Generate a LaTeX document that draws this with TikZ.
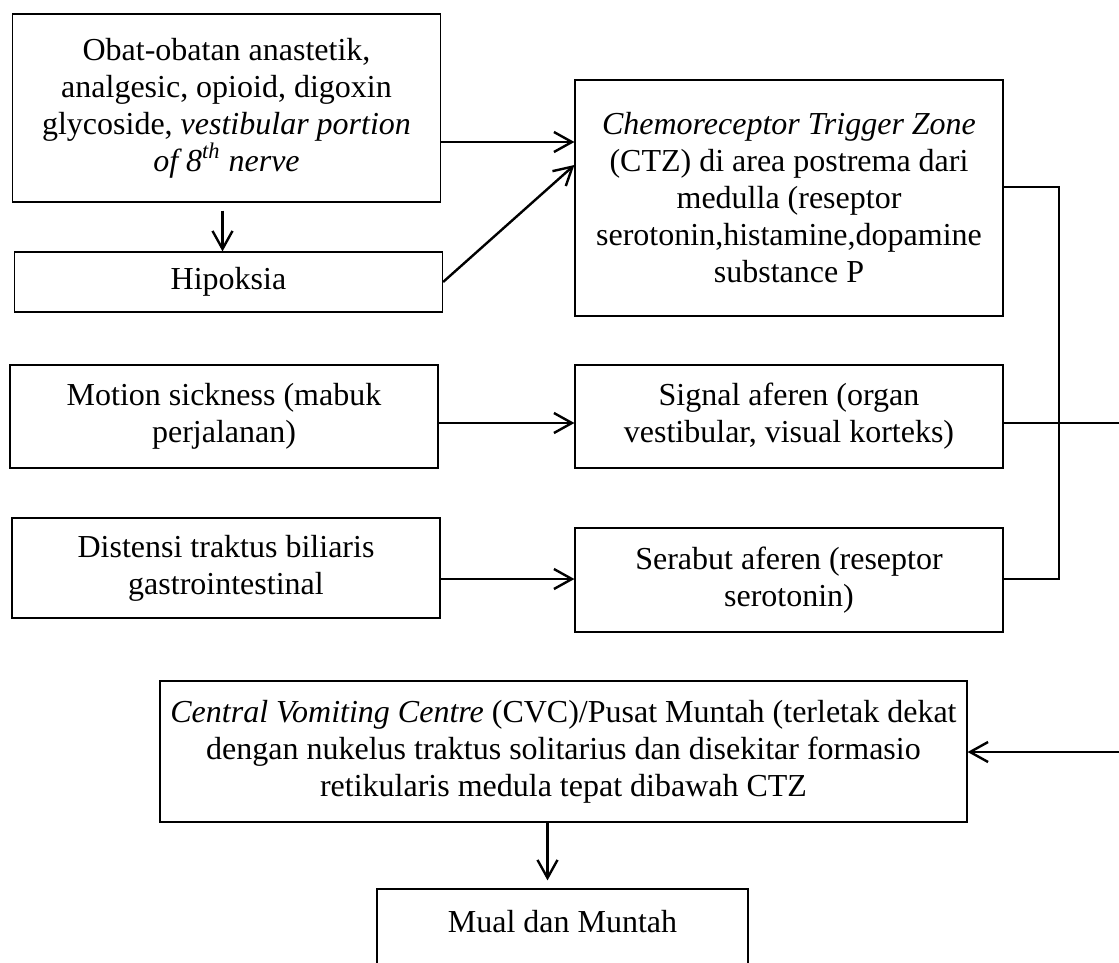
\documentclass[tikz,border=0pt]{standalone}
\usepackage{fontspec}
\setmainfont{Liberation Serif}
\usetikzlibrary{arrows.meta}
\begin{document}
\begin{tikzpicture}[x=0.5pt,y=-0.5pt,
    box/.style={draw, line width=0.6pt, align=center, inner sep=0pt,
      minimum width=214pt, font=\fontsize{16}{18.5}\selectfont},
    arr/.style={-{Straight Barb[length=9pt,width=10pt]}, line width=1.2pt},
    link/.style={line width=1.2pt}]
  \useasboundingbox (0,0) rectangle (1119,963);
  % left column
  \node[box, minimum height=94pt] (obat) at (226.5,108)
    {Obat-obatan anastetik,\\analgesic, opioid, digoxin\\glycoside, \textit{vestibular portion}\\\textit{of 8\textsuperscript{th} nerve}};
  \node[box, minimum height=30pt] (hip) at (228.5,282) {Hipoksia};
  \node[box, minimum height=51.5pt] (motion) at (224,416.5) {Motion sickness (mabuk\\perjalanan)};
  \node[box, minimum height=50pt] (dist) at (226,568) {Distensi traktus biliaris\\gastrointestinal};
  % right column
  \node[box, minimum height=118pt] (ctz) at (789,198)
    {\textit{Chemoreceptor Trigger Zone}\\(CTZ) di area postrema dari\\medulla (reseptor\\serotonin,histamine,dopamine\\substance P};
  \node[box, minimum height=51.5pt] (signal) at (789,416.5) {Signal aferen (organ\\vestibular, visual korteks)};
  \node[box, minimum height=52pt] (serabut) at (789,580) {Serabut aferen (reseptor\\serotonin)};
  % bottom
  \node[box, minimum width=403.5pt, minimum height=70.5pt] (cvc) at (563.5,751.5)
    {\textit{Central Vomiting Centre} (CVC)/Pusat Muntah (terletak dekat\\dengan nukelus traktus solitarius dan disekitar formasio\\retikularis medula tepat dibawah CTZ};
  \node[box, minimum width=185.5pt, minimum height=50.5pt] (mual) at (562.5,939.5) {Mual dan Muntah\\\mbox{}};
  % free ends
  \coordinate (bt) at (1059,187);
  \coordinate (bb) at (1059,579);
  \coordinate (edge1) at (1119,423);
  \coordinate (edge2) at (1119,752);
  % connectors
  \draw[arr] (obat.east |- 0,142) -- (ctz.west |- 0,142);
  \draw[arr] ([xshift=-2pt,yshift=-4pt]obat.south) -- ([xshift=-2pt]obat.south |- hip.north);
  \draw[arr] (hip.east) -- (ctz.west |- 0,165);
  \draw[arr] (motion.east |- 0,423) -- (signal.west |- 0,423);
  \draw[arr] (dist.east |- bb) -- (serabut.west |- bb);
  \draw[link] (ctz.east |- bt) -- (bt) -- (bb) -- (serabut.east |- bb);
  \draw[link] (signal.east |- edge1) -- (edge1);
  \draw[arr] (edge2) -- (cvc.east |- edge2);
  \draw[arr] ([xshift=-7.5pt]mual.north |- cvc.south) -- ([xshift=-7.5pt,yshift=4pt]mual.north);
\end{tikzpicture}
\end{document}
